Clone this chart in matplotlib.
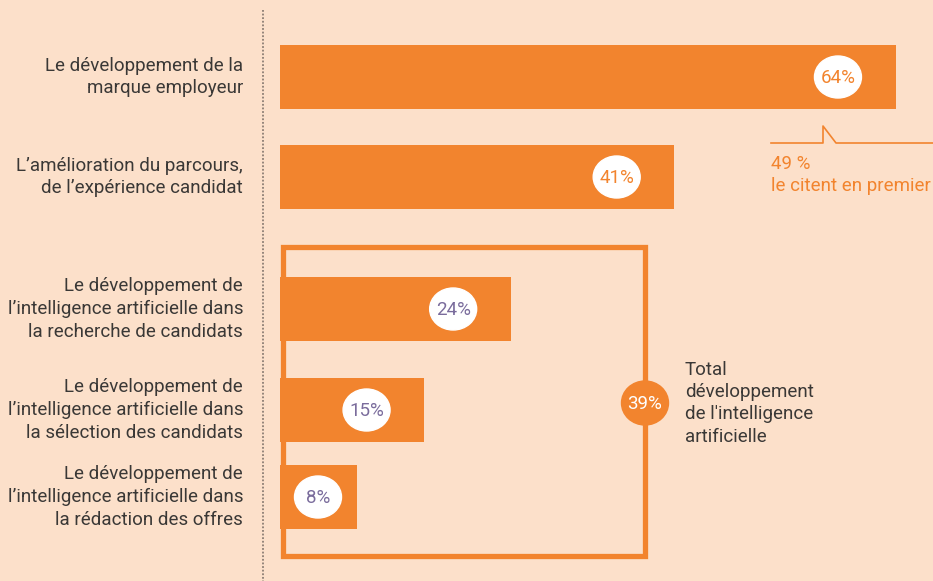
import matplotlib.pyplot as plt
from matplotlib.patches import Ellipse, Rectangle

labels = [
    "Le développement de la\nmarque employeur",
    "L\u2019amélioration du parcours,\nde l\u2019expérience candidat",
    "Le développement de\nl\u2019intelligence artificielle dans\nla recherche de candidats",
    "Le développement de\nl\u2019intelligence artificielle dans\nla sélection des candidats",
    "Le développement de\nl\u2019intelligence artificielle dans\nla rédaction des offres",
]
values = [64, 41, 24, 15, 8]
value_labels = ["64%", "41%", "24%", "15%", "8%"]
total_ai = 39
total_ai_label = "Total\ndéveloppement\nde l'intelligence\nartificielle"
first_choice = 49
first_choice_label = "le citent en premier"

ORANGE = "#F2842E"
BG = "#FCE0CA"
DARK = "#3A3836"
PURPLE = "#7A6C9C"

plt.rcParams["font.family"] = ["Roboto", "DejaVu Sans"]

W, H = 933, 581
fig = plt.figure(figsize=(9.33, 5.81), dpi=100)
fig.patch.set_facecolor(BG)

# decoration layer, pixel coordinates
deco = fig.add_axes([0, 0, 1, 1])
deco.set_xlim(0, W)
deco.set_ylim(H, 0)
deco.axis("off")

# bar layer: x in percent, y in pixels
ax = fig.add_axes([0, 0, 1, 1], zorder=2)
ax.patch.set_alpha(0)
scale = 9.62  # pixels per percent
x0 = 280
ax.set_xlim(-x0 / scale, (W - x0) / scale)
ax.set_ylim(H, 0)
ax.axis("off")

ypos = [77, 177, 309, 410, 497]
ax.barh(ypos, values, height=64, color=ORANGE, zorder=2)

for i, (v, y, lab) in enumerate(zip(values, ypos, value_labels)):
    cx = max(v - 6, 38 / scale)
    ax.add_patch(Ellipse((cx, y), 47 / scale, 42, color="white", zorder=3))
    col = ORANGE if i < 2 else PURPLE
    ax.text(cx, y + 1, lab, ha="center", va="center", color=col, fontsize=13.5, zorder=4)

# category labels
for y, lab in zip(ypos, labels):
    deco.text(243, y, lab, ha="right", va="center", multialignment="right",
              color=DARK, fontsize=13.5, linespacing=1.32)

# dotted separator
deco.plot([263, 263], [10, H], ls=(0, (1, 1)), color="#8C7E74", lw=1.3)

# box around the AI items
deco.add_patch(Rectangle((283, 247), 362, 309, fill=False, ec=ORANGE, lw=3.8, zorder=1))
deco.add_patch(Ellipse((645, 403), 47, 44, color=ORANGE, zorder=3))
deco.text(645, 404, f"{total_ai}%", ha="center", va="center", color="white", fontsize=13.5, zorder=4)
deco.text(685, 361, total_ai_label, ha="left", va="top", color=DARK, fontsize=13.5, linespacing=1.3)

# "first choice" callout
deco.plot([771, 823, 823, 836, W], [143, 143, 126, 143, 143], color=ORANGE, lw=1.2)
deco.text(771, 155, f"{first_choice} %\n{first_choice_label}", ha="left", va="top",
          color=ORANGE, fontsize=13.5, linespacing=1.3)

fig.savefig("out.png", dpi=100, facecolor=BG)
